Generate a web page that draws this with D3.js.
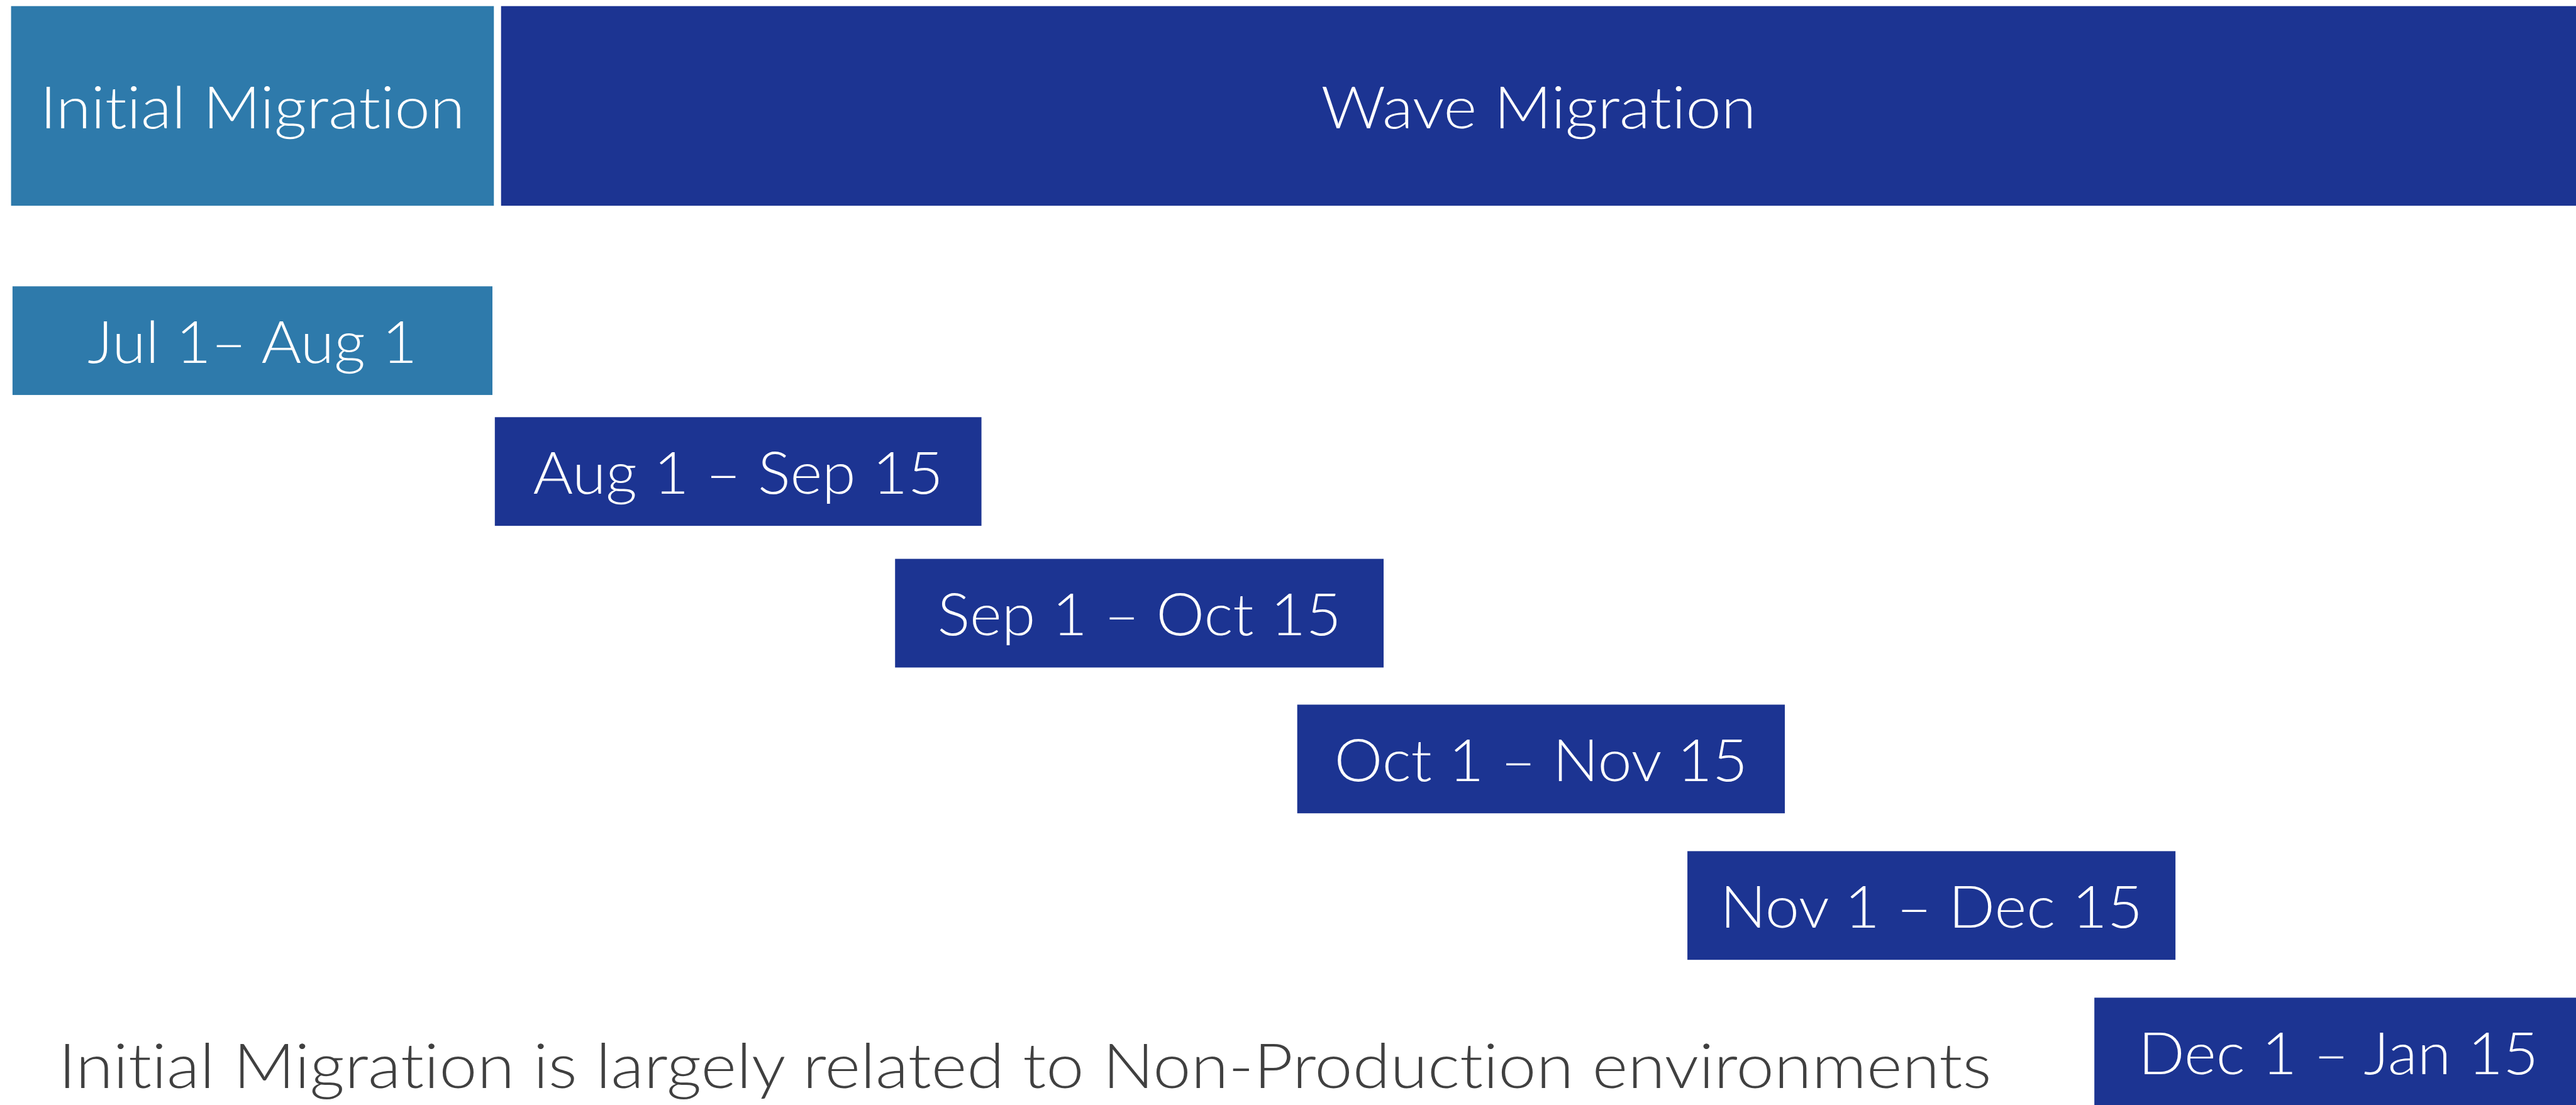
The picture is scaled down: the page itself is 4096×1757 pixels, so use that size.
<!DOCTYPE html>
<html lang="en">
<head>
<meta charset="UTF-8">
<title>Migration timeline</title>
<script src="https://d3js.org/d3.v7.min.js"></script>
<style>
    body, html { margin: 0; padding: 0; background: #fff; overflow: hidden; }
    svg { display: block; }
    text { font-family: Lato, 'Open Sans', sans-serif; font-weight: 300; font-variant-ligatures: none; }
    .label { fill: #fff; }
    .note { fill: #404040; }
</style>
</head>
<body>
<div id="chart"></div>
<script>
// phases along the top (timeline units = months after Jul 1, as drawn)
const phaseNames = ["Initial Migration", "Wave Migration"];
const phaseStart = [-0.003, 1.018];
const phaseEnd = [1.003, 5.4];

// one bar per wave
const waveLabels = ["Jul 1\u2013 Aug 1", "Aug 1 \u2013 Sep 15", "Sep 1 \u2013 Oct 15",
    "Oct 1 \u2013 Nov 15", "Nov 1 \u2013 Dec 15", "Dec 1 \u2013 Jan 15"];
const wavePhase = ["Initial Migration", "Wave Migration", "Wave Migration",
    "Wave Migration", "Wave Migration", "Wave Migration"];
const waveStart = [0, 1.005, 1.839, 2.677, 3.49, 4.338];
const waveEnd = [1.0, 2.019, 2.857, 3.693, 4.507, 5.355];
const waveLane = [0, 0.893, 1.86, 2.855, 3.855, 4.855];

const noteText = "Initial Migration is largely related to Non-Production environments";

// reference canvas, drawn through a viewBox so it fills the window
const W = 4219, H = 1810;
const svg = d3.select("#chart").append("svg")
    .attr("width", 4096)
    .attr("height", 1757)
    .attr("viewBox", `0 0 ${W} ${H}`)
    .attr("preserveAspectRatio", "none");

const x = d3.scaleLinear().domain([0, 1]).range([20.5, 806.5]);
const y = d3.scaleLinear().domain([0, 1]).range([469, 709]);
const color = d3.scaleOrdinal().domain(phaseNames).range(["#2e7aab", "#1c3492"]);

const fontSize = 96.3, noteSize = 101.5;
const capH = fontSize * 0.7165;
const barH = 178;
const head = { top: 10, bottom: 337 };

// the original face is wider than Lato, so stretch each text a bit
function widen(sel, k) {
    sel.each(function () {
        const w = this.getComputedTextLength();
        d3.select(this).attr("textLength", w * k).attr("lengthAdjust", "spacingAndGlyphs");
    });
}

// header boxes
const phases = phaseNames.map((name, i) => ({ name, start: phaseStart[i], end: phaseEnd[i] }));
const hg = svg.append("g").attr("class", "phases")
    .selectAll("g").data(phases).enter().append("g");
hg.append("rect")
    .attr("x", d => x(d.start))
    .attr("y", head.top)
    .attr("width", d => x(d.end) - x(d.start))
    .attr("height", head.bottom - head.top)
    .style("fill", d => color(d.name));
hg.append("text")
    .attr("class", "label")
    .attr("x", d => (x(d.start) + Math.min(x(d.end), W)) / 2)
    .attr("y", (head.top + head.bottom) / 2 + capH / 2 + 2)
    .attr("text-anchor", "middle")
    .style("font-size", fontSize + "px")
    .text(d => d.name)
    .call(widen, 1.08);

// wave bars
const waves = waveLabels.map((label, i) => ({
    label, phase: wavePhase[i], start: waveStart[i], end: waveEnd[i], lane: waveLane[i]
}));
const wg = svg.append("g").attr("class", "waves")
    .selectAll("g").data(waves).enter().append("g");
wg.append("rect")
    .attr("x", d => x(d.start))
    .attr("y", d => y(d.lane))
    .attr("width", d => x(d.end) - x(d.start))
    .attr("height", barH)
    .style("fill", d => color(d.phase));
wg.append("text")
    .attr("class", "label")
    .attr("x", d => (x(d.start) + x(d.end)) / 2)
    .attr("y", d => y(d.lane) + barH / 2 + capH / 2 + 2)
    .attr("text-anchor", "middle")
    .style("font-size", fontSize + "px")
    .text(d => d.label)
    .call(widen, 1.04);

// footnote
svg.append("text")
    .attr("class", "note")
    .attr("x", 95.6)
    .attr("y", 1782.7)
    .style("font-size", noteSize + "px")
    .text(noteText)
    .call(widen, 1.10);
</script>
</body>
</html>
